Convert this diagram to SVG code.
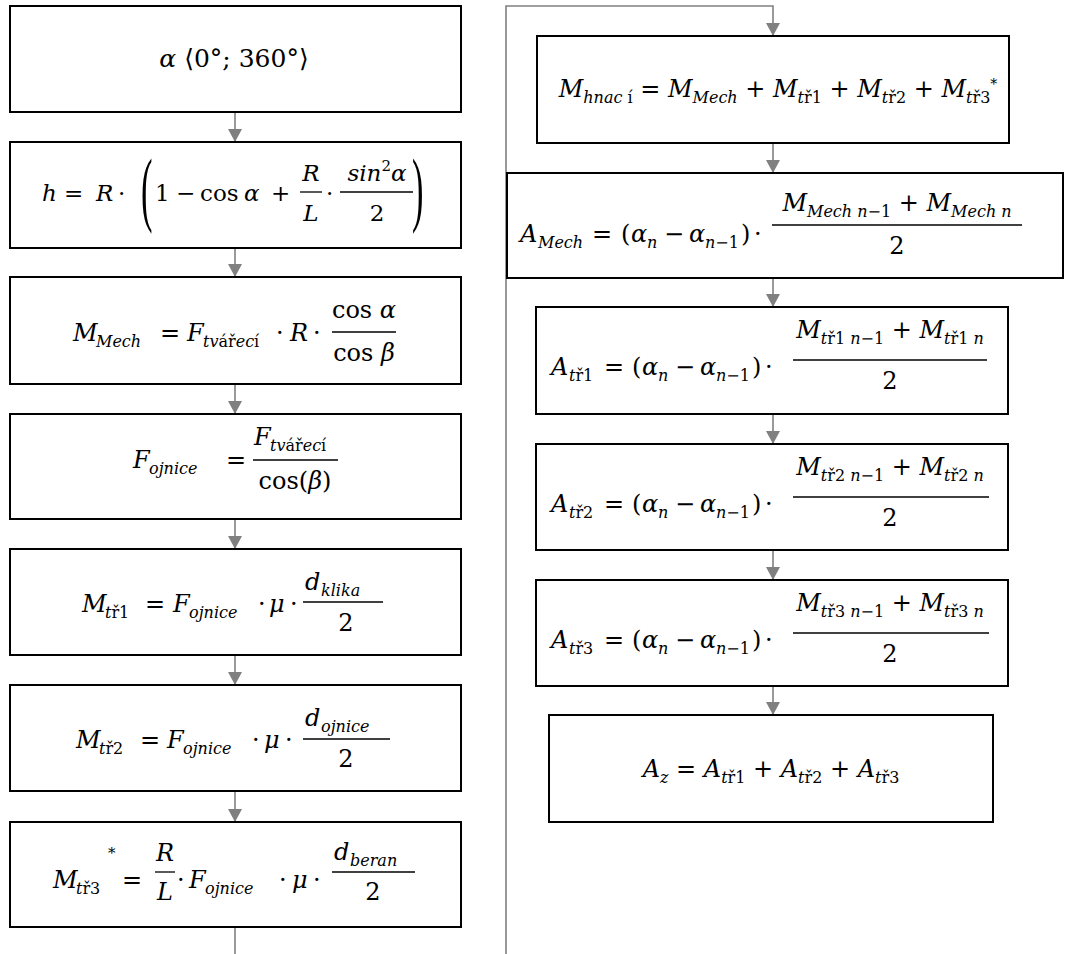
<svg xmlns="http://www.w3.org/2000/svg" width="1065" height="954" viewBox="0 0 1065 954">
<defs>
<marker id="ah" markerUnits="userSpaceOnUse" markerWidth="14" markerHeight="14" refX="13" refY="7" orient="auto" viewBox="0 0 14 14">
<path d="M0,0 L13,7 L0,14 Z" fill="#808080"/>
</marker>
<style>
.box{fill:#fff;stroke:#000;stroke-width:2}
.c{fill:none;stroke:#808080;stroke-width:1.6}
.fl{stroke:#000;stroke-width:1.3}
text{font-family:"DejaVu Serif","Liberation Serif",serif;font-size:24px;fill:#000}
.i{font-style:italic}
.s{font-size:16px}
.sm{font-size:23px}
.mid{text-anchor:middle}
.p{font-size:82px;font-family:"Liberation Serif",serif}
</style>
</defs>
<g id="connectors">
<line class="c" x1="235" y1="112" x2="235" y2="142" marker-end="url(#ah)"/>
<line class="c" x1="235" y1="248" x2="235" y2="277" marker-end="url(#ah)"/>
<line class="c" x1="235" y1="384" x2="235" y2="414" marker-end="url(#ah)"/>
<line class="c" x1="235" y1="519" x2="235" y2="549" marker-end="url(#ah)"/>
<line class="c" x1="235" y1="655" x2="235" y2="685" marker-end="url(#ah)"/>
<line class="c" x1="235" y1="791" x2="235" y2="822" marker-end="url(#ah)"/>
<polyline class="c" points="235,927 235,954"/>
<polyline class="c" points="506,954 506,6 773,6 773,36" marker-end="url(#ah)"/>
<line class="c" x1="773" y1="143" x2="773" y2="173" marker-end="url(#ah)"/>
<line class="c" x1="773" y1="278" x2="773" y2="307" marker-end="url(#ah)"/>
<line class="c" x1="773" y1="414" x2="773" y2="444" marker-end="url(#ah)"/>
<line class="c" x1="773" y1="550" x2="773" y2="580" marker-end="url(#ah)"/>
<line class="c" x1="773" y1="686" x2="773" y2="715" marker-end="url(#ah)"/>
</g>

<g id="n1">
<rect class="box" x="10" y="6" width="451" height="106"/>
<text x="234" y="67" class="mid" style="font-size:25px"><tspan class="i">α</tspan> ⟨0°; 360°⟩</text>
</g>

<g id="n2">
<rect class="box" x="10" y="142" width="451" height="106"/>
<text x="42" y="201" class="i sm">h</text>
<text x="64" y="201" class="sm">=</text>
<text x="96" y="201" class="i sm">R</text>
<text x="118" y="201" class="sm">·</text>
<text class="p" transform="translate(141,216) scale(0.42,1)">(</text>
<text x="155" y="201" class="sm">1</text>
<text x="176" y="201" class="sm">−</text>
<text x="200" y="201" class="sm">cos</text>
<text x="244" y="201" class="i sm">α</text>
<text x="271" y="201" class="sm">+</text>
<text x="311" y="181" class="i sm mid">R</text>
<line class="fl" x1="300" y1="192" x2="322" y2="192"/>
<text x="311" y="221" class="i sm mid">L</text>
<text x="326" y="201" class="sm">·</text>
<text x="377" y="181" class="sm mid"><tspan class="i">sin</tspan><tspan font-size="15" dy="-10">2</tspan><tspan class="i" dy="10">α</tspan></text>
<line class="fl" x1="340" y1="192" x2="413" y2="192"/>
<text x="377" y="221" class="sm mid">2</text>
<text class="p" transform="translate(412,216) scale(0.42,1)">)</text>
</g>

<g id="n3">
<rect class="box" x="10" y="277" width="451" height="107"/>
<text x="73" y="341" class="i">M</text>
<text x="96" y="347" class="i s">Mech</text>
<text x="160" y="341">=</text>
<text x="187" y="341" class="i">F</text>
<text x="203" y="347" class="s"><tspan class="i">tv</tspan>ář<tspan class="i">ec</tspan>í</text>
<text x="276" y="341">·</text>
<text x="290" y="341" class="i">R</text>
<text x="313" y="341">·</text>
<text x="364" y="318" class="mid">cos <tspan class="i">α</tspan></text>
<line class="fl" x1="332" y1="332" x2="396" y2="332"/>
<text x="364" y="361" class="mid">cos <tspan class="i">β</tspan></text>
</g>

<g id="n4">
<rect class="box" x="10" y="414" width="451" height="105"/>
<text x="133" y="468" class="i">F</text>
<text x="149" y="474" class="i s">ojnice</text>
<text x="226" y="468">=</text>
<text x="254" y="445" class="i">F</text>
<text x="270" y="451" class="s"><tspan class="i">tv</tspan>ář<tspan class="i">ec</tspan>í</text>
<line class="fl" x1="253" y1="460" x2="338" y2="460"/>
<text x="295" y="489" class="mid">cos(<tspan class="i">β</tspan>)</text>
</g>

<g id="n5">
<rect class="box" x="10" y="549" width="451" height="106"/>
<text x="82" y="612" class="i">M</text>
<text x="105" y="618" class="s"><tspan class="i">t</tspan>ř1</text>
<text x="145" y="612">=</text>
<text x="173" y="612" class="i">F</text>
<text x="189" y="618" class="i s">ojnice</text>
<text x="258" y="612">·</text>
<text x="269" y="612" class="i">μ</text>
<text x="290" y="612">·</text>
<text x="305" y="590" class="i">d</text>
<text x="321" y="596" class="i s">klika</text>
<line class="fl" x1="303" y1="602" x2="383" y2="602"/>
<text x="346" y="631" class="mid">2</text>
</g>

<g id="n6">
<rect class="box" x="10" y="685" width="451" height="106"/>
<text x="76" y="748" class="i">M</text>
<text x="99" y="754" class="s"><tspan class="i">t</tspan>ř2</text>
<text x="140" y="748">=</text>
<text x="167" y="748" class="i">F</text>
<text x="183" y="754" class="i s">ojnice</text>
<text x="252" y="748">·</text>
<text x="264" y="748" class="i">μ</text>
<text x="285" y="748">·</text>
<text x="305" y="726" class="i">d</text>
<text x="321" y="732" class="i s">ojnice</text>
<line class="fl" x1="303" y1="739" x2="390" y2="739"/>
<text x="346" y="767" class="mid">2</text>
</g>

<g id="n7">
<rect class="box" x="10" y="822" width="451" height="105"/>
<text x="53" y="888" class="i">M</text>
<text x="76" y="894" class="s"><tspan class="i">t</tspan>ř3</text>
<text x="108" y="858" style="font-size:15px">*</text>
<text x="122" y="888">=</text>
<text x="165" y="861" class="i mid">R</text>
<line class="fl" x1="155" y1="872" x2="175" y2="872"/>
<text x="165" y="900" class="i mid">L</text>
<text x="177" y="888">·</text>
<text x="189" y="888" class="i">F</text>
<text x="205" y="894" class="i s">ojnice</text>
<text x="279" y="888">·</text>
<text x="292" y="888" class="i">μ</text>
<text x="313" y="888">·</text>
<text x="334" y="860" class="i">d</text>
<text x="350" y="866" class="i s">beran</text>
<line class="fl" x1="332" y1="872" x2="415" y2="872"/>
<text x="373" y="900" class="mid">2</text>
</g>

<g id="n8">
<rect class="box" x="537" y="36" width="472" height="107"/>
<text x="778" y="97" class="mid"><tspan class="i">M</tspan><tspan class="s" dy="6"><tspan class="i">hnac</tspan> í</tspan><tspan dy="-6"> = </tspan><tspan class="i">M</tspan><tspan class="s i" dy="6">Mech</tspan><tspan dy="-6"> + </tspan><tspan class="i">M</tspan><tspan class="s" dy="6"><tspan class="i">t</tspan>ř1</tspan><tspan dy="-6"> + </tspan><tspan class="i">M</tspan><tspan class="s" dy="6"><tspan class="i">t</tspan>ř2</tspan><tspan dy="-6"> + </tspan><tspan class="i">M</tspan><tspan class="s" dy="6"><tspan class="i">t</tspan>ř3</tspan><tspan style="font-size:14px" dy="-14">*</tspan></text>
</g>

<g id="n9">
<rect class="box" x="507" y="173" width="556" height="105"/>
<text x="520" y="242" class="i">A</text>
<text x="538" y="248" class="i s">Mech</text>
<text x="592" y="242">=</text>
<text x="621" y="242">(</text>
<text x="631" y="242" class="i">α</text>
<text x="647" y="248" class="i s">n</text>
<text x="664" y="242">−</text>
<text x="689" y="242" class="i">α</text>
<text x="705" y="248" class="s"><tspan class="i">n</tspan>−1</text>
<text x="741" y="242">)</text>
<text x="754" y="242">·</text>
<text x="897" y="211" class="mid"><tspan class="i">M</tspan><tspan class="s" dy="6"><tspan class="i">Mech n</tspan>−1</tspan><tspan dy="-6"> + </tspan><tspan class="i">M</tspan><tspan class="s i" dy="6">Mech n</tspan></text>
<line class="fl" x1="772" y1="225" x2="1022" y2="225"/>
<text x="897" y="254" class="mid">2</text>
</g>

<g id="n10">
<rect class="box" x="536" y="307" width="472" height="107"/>
<text x="551" y="375" class="i">A</text>
<text x="569" y="381" class="s"><tspan class="i">t</tspan>ř1</text>
<text x="604" y="375">=</text>
<text x="632" y="375">(</text>
<text x="642" y="375" class="i">α</text>
<text x="658" y="381" class="i s">n</text>
<text x="675" y="375">−</text>
<text x="700" y="375" class="i">α</text>
<text x="716" y="381" class="s"><tspan class="i">n</tspan>−1</text>
<text x="752" y="375">)</text>
<text x="765" y="375">·</text>
<text x="890" y="338" class="mid"><tspan class="i">M</tspan><tspan class="s" dy="6"><tspan class="i">t</tspan>ř1 <tspan class="i">n</tspan>−1</tspan><tspan dy="-6"> + </tspan><tspan class="i">M</tspan><tspan class="s" dy="6"><tspan class="i">t</tspan>ř1 <tspan class="i">n</tspan></tspan></text>
<line class="fl" x1="793" y1="360" x2="987" y2="360"/>
<text x="890" y="389" class="mid">2</text>
</g>

<g id="n11">
<rect class="box" x="536" y="444" width="472" height="106"/>
<text x="551" y="512" class="i">A</text>
<text x="569" y="518" class="s"><tspan class="i">t</tspan>ř2</text>
<text x="604" y="512">=</text>
<text x="632" y="512">(</text>
<text x="642" y="512" class="i">α</text>
<text x="658" y="518" class="i s">n</text>
<text x="675" y="512">−</text>
<text x="700" y="512" class="i">α</text>
<text x="716" y="518" class="s"><tspan class="i">n</tspan>−1</text>
<text x="752" y="512">)</text>
<text x="765" y="512">·</text>
<text x="890" y="475" class="mid"><tspan class="i">M</tspan><tspan class="s" dy="6"><tspan class="i">t</tspan>ř2 <tspan class="i">n</tspan>−1</tspan><tspan dy="-6"> + </tspan><tspan class="i">M</tspan><tspan class="s" dy="6"><tspan class="i">t</tspan>ř2 <tspan class="i">n</tspan></tspan></text>
<line class="fl" x1="793" y1="497" x2="989" y2="497"/>
<text x="890" y="526" class="mid">2</text>
</g>

<g id="n12">
<rect class="box" x="536" y="580" width="472" height="106"/>
<text x="551" y="648" class="i">A</text>
<text x="569" y="654" class="s"><tspan class="i">t</tspan>ř3</text>
<text x="604" y="648">=</text>
<text x="632" y="648">(</text>
<text x="642" y="648" class="i">α</text>
<text x="658" y="654" class="i s">n</text>
<text x="675" y="648">−</text>
<text x="700" y="648" class="i">α</text>
<text x="716" y="654" class="s"><tspan class="i">n</tspan>−1</text>
<text x="752" y="648">)</text>
<text x="765" y="648">·</text>
<text x="890" y="611" class="mid"><tspan class="i">M</tspan><tspan class="s" dy="6"><tspan class="i">t</tspan>ř3 <tspan class="i">n</tspan>−1</tspan><tspan dy="-6"> + </tspan><tspan class="i">M</tspan><tspan class="s" dy="6"><tspan class="i">t</tspan>ř3 <tspan class="i">n</tspan></tspan></text>
<line class="fl" x1="793" y1="633" x2="989" y2="633"/>
<text x="890" y="662" class="mid">2</text>
</g>

<g id="n13">
<rect class="box" x="549" y="715" width="444" height="107"/>
<text x="771" y="777" class="mid"><tspan class="i">A</tspan><tspan class="s i" dy="6">z</tspan><tspan dy="-6"> = </tspan><tspan class="i">A</tspan><tspan class="s" dy="6"><tspan class="i">t</tspan>ř1</tspan><tspan dy="-6"> + </tspan><tspan class="i">A</tspan><tspan class="s" dy="6"><tspan class="i">t</tspan>ř2</tspan><tspan dy="-6"> + </tspan><tspan class="i">A</tspan><tspan class="s" dy="6"><tspan class="i">t</tspan>ř3</tspan></text>
</g>
</svg>
